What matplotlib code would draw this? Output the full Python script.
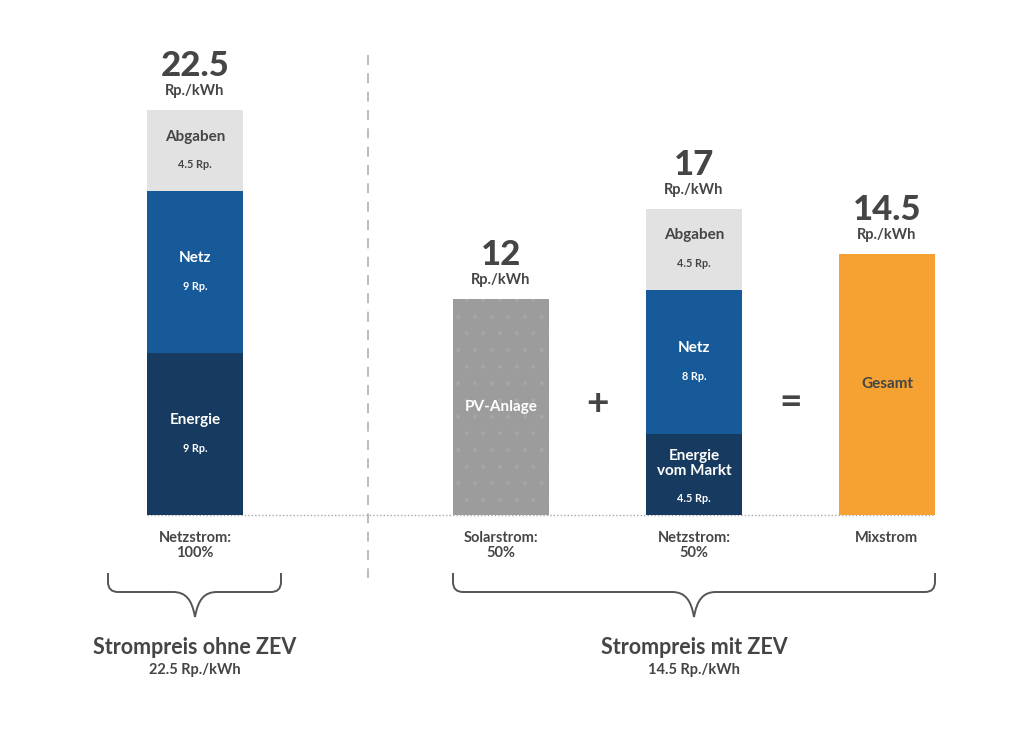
import matplotlib
matplotlib.use("Agg")
import matplotlib.pyplot as plt
from matplotlib.path import Path
from matplotlib.patches import PathPatch

# --- data --------------------------------------------------------------------------
categories = ["Netzstrom:\n100%", "Solarstrom:\n50%", "Netzstrom:\n50%", "Mixstrom"]
totals = [22.5, 12, 17, 14.5]
total_labels = ["22.5", "12", "17", "14.5"]

# stacked segments (bottom -> top) per bar
seg_names = [["Energie", "Netz", "Abgaben"],
             ["PV-Anlage"],
             ["Energie\nvom Markt", "Netz", "Abgaben"],
             ["Gesamt"]]
seg_values = [[9, 9, 4.5], [12], [4.5, 8, 4.5], [14.5]]
seg_value_labels = [["9 Rp.", "9 Rp.", "4.5 Rp."], [""], ["4.5 Rp.", "8 Rp.", "4.5 Rp."], [""]]

summary_titles = ["Strompreis ohne ZEV", "Strompreis mit ZEV"]
summary_values = ["22.5 Rp./kWh", "14.5 Rp./kWh"]

# --- style -------------------------------------------------------------------------
INK = "#454545"
GREY_LIGHT = "#e2e2e2"
BLUE = "#175a99"
NAVY = "#173b60"
PV_GREY = "#9c9c9c"
ORANGE = "#f5a232"
seg_colors = [[NAVY, BLUE, GREY_LIGHT], [PV_GREY], [NAVY, BLUE, GREY_LIGHT], [ORANGE]]
seg_text = [["white", "white", INK], ["white"], ["white", "white", INK], [INK]]

plt.rcParams["font.family"] = ["Lato", "DejaVu Sans"]
plt.rcParams["hatch.linewidth"] = 0.5

W, H = 1024, 733
BASE_PX, PX_PER_UNIT, X_UNIT = 515, 18.0, 193.0
fig = plt.figure(figsize=(W / 100, H / 100), dpi=100)
ax = fig.add_axes([0, 0, 1, 1])
ax.set_xlim(-195 / X_UNIT, (W - 195) / X_UNIT)
ax.set_ylim(-(H - BASE_PX) / PX_PER_UNIT, BASE_PX / PX_PER_UNIT)
ax.axis("off")


def y_of(px):      # layout helper: pixel row -> data y
    return (BASE_PX - px) / PX_PER_UNIT


def x_of(px):
    return (px - 195) / X_UNIT


xs = [0, 1.585, 2.585, 3.585]
width = 96 / X_UNIT
pt = 0.72  # points per pixel

# baseline (dotted) and separator (dashed)
ax.plot([xs[0] - width / 2, xs[-1] + width / 2], [0, 0], color="#a8a8a8", lw=1,
        ls=(0, (1, 1.5)), zorder=1)
ax.plot([x_of(368)] * 2, [y_of(55), y_of(578)], color="#b0b0b0", lw=1.2,
        ls=(0, (6, 5)), zorder=1)

for i, x in enumerate(xs):
    bottom = 0
    for name, v, lab, col, tc in zip(seg_names[i], seg_values[i], seg_value_labels[i],
                                     seg_colors[i], seg_text[i]):
        kw = {}
        if name == "PV-Anlage":
            kw = dict(hatch=".", edgecolor="#a6a6a6", linewidth=0)
        ax.bar(x, v, width=width, bottom=bottom, color=col, zorder=2, **kw)
        mid = bottom + v / 2
        if lab:
            if "\n" in name:
                ax.annotate(name, (x, mid), xytext=(0, 11 * pt), textcoords="offset points",
                            ha="center", va="center", color=tc, fontsize=11,
                            fontweight="bold", linespacing=1.05)
                ax.annotate(lab, (x, mid), xytext=(0, -24 * pt), textcoords="offset points",
                            ha="center", va="center", color=tc, fontsize=7.8, fontweight="bold")
            else:
                ax.annotate(name, (x, mid), xytext=(0, 14 * pt), textcoords="offset points",
                            ha="center", va="center", color=tc, fontsize=11, fontweight="bold")
                ax.annotate(lab, (x, mid), xytext=(0, -14 * pt), textcoords="offset points",
                            ha="center", va="center", color=tc, fontsize=7.8, fontweight="bold")
        else:
            ax.text(x, mid, name, ha="center", va="center", color=tc, fontsize=11,
                    fontweight="bold", zorder=3)
        bottom += v
    # total above bar
    ax.annotate(total_labels[i], (x, totals[i]), xytext=(0, 44 * pt), textcoords="offset points",
                ha="center", va="center", color=INK, fontsize=25, fontweight="black")
    ax.annotate("Rp./kWh", (x, totals[i]), xytext=(0, 19 * pt), textcoords="offset points",
                ha="center", va="center", color=INK, fontsize=10.5, fontweight="bold")
    # category label below
    ax.annotate(categories[i], (x, 0), xytext=(0, -16 * pt), textcoords="offset points",
                ha="center", va="top", color=INK, fontsize=10.5, fontweight="bold",
                linespacing=1.05)

# operators
ax.text((xs[1] + xs[2]) / 2, y_of(403), "+", ha="center", va="center", color=INK,
        fontsize=28, fontweight="bold")
ax.text((xs[2] + xs[3]) / 2, y_of(403), "=", ha="center", va="center", color=INK,
        fontsize=28, fontweight="bold")


def brace(xa, xb, xm):
    """curly brace in pixel layout converted to data coords"""
    y0, y1, y2, r = 573, 592, 617, 10
    pts = [(xa, y0), (xa, y1 - r), (xa, y1), (xa + r, y1), (xm - 22, y1),
           (xm - 9, y1), (xm - 3, y1 + 8), (xm, y2),
           (xm + 3, y1 + 8), (xm + 9, y1), (xm + 22, y1),
           (xb - r, y1), (xb, y1), (xb, y1 - r), (xb, y0)]
    codes = [Path.MOVETO, Path.LINETO, Path.CURVE3, Path.CURVE3, Path.LINETO,
             Path.CURVE4, Path.CURVE4, Path.CURVE4,
             Path.CURVE4, Path.CURVE4, Path.CURVE4,
             Path.LINETO, Path.CURVE3, Path.CURVE3, Path.LINETO]
    verts = [(x_of(px), y_of(py)) for px, py in pts]
    ax.add_patch(PathPatch(Path(verts, codes), fill=False, edgecolor="#555555", lw=1.4))


brace(108, 281, 195)
brace(453, 935, 694)

for cx, t, v in zip([195, 694], summary_titles, summary_values):
    ax.text(x_of(cx), y_of(647), t, ha="center", va="center", color=INK, fontsize=15.5,
            fontweight="bold")
    ax.text(x_of(cx), y_of(670), v, ha="center", va="center", color=INK, fontsize=10.5,
            fontweight="bold")

fig.savefig("out.png", dpi=100, facecolor="white")
